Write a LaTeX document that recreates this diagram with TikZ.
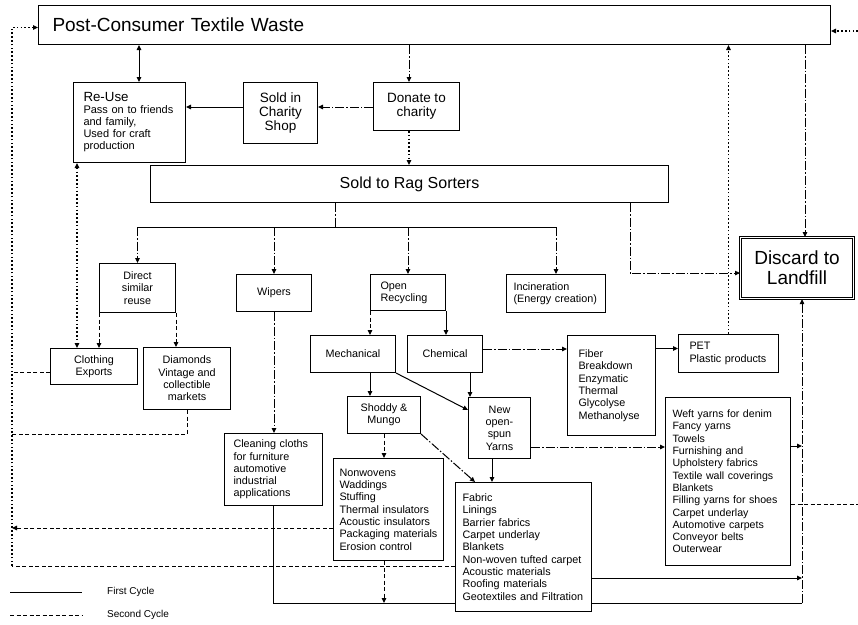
\documentclass[tikz,border=0pt]{standalone}
\usepackage{fontspec}
\setmainfont{Liberation Sans}
\usetikzlibrary{arrows.meta,backgrounds}

\begin{document}
\begin{tikzpicture}[x=1pt,y=-1pt,
  >={Triangle[length=5pt,width=4.5pt]},
  box/.style={draw, fill=white, line width=1pt, inner sep=0pt, anchor=north west,
              font=\fontsize{10.8}{12.3}\selectfont},
  sz/.style 2 args={minimum width=#1pt, minimum height=#2pt},
  lt/.style={align=left, text width=#1pt},
  ct/.style={align=center},
  first/.style={line width=1pt},
  second/.style={line width=1pt, dash pattern=on 4pt off 2.5pt},
  dotl/.style={line width=1.1pt, dash pattern=on 1.6pt off 2.2pt},
  dd/.style={line width=1pt, dash pattern=on 9pt off 2pt on 1.5pt off 2pt},
  legend/.style={anchor=west, inner sep=0pt, font=\fontsize{10}{12}\selectfont},
]
\useasboundingbox (0,0) rectangle (858,624);

% ---------- boxes ----------
\node[box, sz={792}{39}, lt=764, font=\fontsize{19}{22}\selectfont] (PCTW) at (38,5)
  {Post-Consumer Textile Waste};
\node[box, sz={112}{80}, lt=92, font=\fontsize{11}{12}\selectfont] (ReUse) at (73,82)
  {{\fontsize{13.3}{14}\selectfont Re-Use}\\Pass on to friends\\and family,\\Used for craft\\production};
\node[box, sz={74}{61}, ct, font=\fontsize{13.5}{14}\selectfont] (Shop) at (243,82)
  {Sold in\\Charity\\Shop};
\node[box, sz={86}{48}, ct, font=\fontsize{13.5}{14}\selectfont] (Donate) at (373,82)
  {Donate to\\charity};
\node[box, sz={518}{37}, font=\fontsize{16}{18}\selectfont] (Rag) at (150,165)
  {Sold to Rag Sorters};
\node[box, sz={113}{61}, ct, font=\fontsize{19}{20}\selectfont,
      double, double distance=1.2pt, line width=1.1pt] (Discard) at (740,237)
  {Discard to\\Landfill};

\node[box, sz={76}{49}, ct] (Direct) at (99,263) {Direct\\similar\\reuse};
\node[box, sz={75}{37}] (Wipers) at (236,274) {Wipers};
\node[box, sz={75}{36}, lt=55] (OpenRec) at (370,274) {Open\\Recycling};
\node[box, sz={99}{38}, lt=85] (Incin) at (506,274) {Incineration\\(Energy creation)};

\node[box, sz={87}{36}, ct] (Clothing) at (50,348) {Clothing\\Exports};
\node[box, sz={87}{62}, ct] (Diamonds) at (143,347) {Diamonds\\Vintage and\\collectible\\markets};
\node[box, sz={85}{37}] (Mech) at (310,335) {Mechanical};
\node[box, sz={75}{37}] (Chem) at (407,335) {Chemical};
\node[box, sz={88}{100}, lt=66] (Fiber) at (567,335)
  {Fiber\\Breakdown\\Enzymatic\\Thermal\\Glycolyse\\Methanolyse};
\node[box, sz={100}{38}, lt=78] (PET) at (678,334) {PET\\Plastic products};
\node[box, sz={73}{37}, ct] (Shoddy) at (347,396) {Shoddy \&\\Mungo};
\node[box, sz={62}{61}, ct] (NewYarn) at (468,397) {New\\open-\\spun\\Yarns};
\node[box, sz={125}{168}, lt=111, font=\fontsize{10.6}{12.3}\selectfont] (Weft) at (665,397)
  {Weft yarns for denim\\Fancy yarns\\Towels\\Furnishing and\\Upholstery fabrics\\Textile wall coverings\\Blankets\\Filling yarns for shoes\\Carpet underlay\\Automotive carpets\\Conveyor belts\\Outerwear};
\node[box, sz={98}{72}, lt=80] (Cleaning) at (224,433)
  {Cleaning cloths\\for furniture\\automotive\\industrial\\applications};
\node[box, sz={110}{102}, lt=98] (Nonwov) at (333,458)
  {Nonwovens\\Waddings\\Stuffing\\Thermal insulators\\Acoustic insulators\\Packaging materials\\Erosion control};
\node[box, sz={136}{129}, lt=122] (Fabric) at (455,482)
  {Fabric\\Linings\\Barrier fabrics\\Carpet underlay\\Blankets\\Non-woven tufted carpet\\Acoustic materials\\Roofing materials\\Geotextiles and Filtration};

% ---------- legend ----------
\coordinate (lgAa) at (10,592); \coordinate (lgAb) at (82,592);
\coordinate (lgBa) at (10,615); \coordinate (lgBb) at (82,615);
\node[legend] (lgA) at (107,592) {First Cycle};
\node[legend] (lgB) at (107,615) {Second Cycle};

% ---------- routing columns and rows ----------
\coordinate (xA) at (139,0);   % Re-Use link
\coordinate (xB) at (409,0);   % donation column
\coordinate (xC) at (335,0);   % sorter drop
\coordinate (xD) at (630,0);   % sorter to landfill
\coordinate (xE) at (805,0);   % waste to landfill
\coordinate (xF) at (802,0);   % collector to landfill
\coordinate (xG) at (12,0);    % second-cycle return
\coordinate (xH) at (77,0);    % Re-Use / exports link
\coordinate (xM) at (370,0);
\coordinate (xN) at (470,0);
\coordinate (xQ) at (475,0);
\coordinate (xR) at (492,0);
\coordinate (yShop) at (0,107);
\coordinate (yBus) at (0,227);
\coordinate (yL1) at (0,434);
\coordinate (yL2) at (0,528);
\coordinate (yL3) at (0,566);
\coordinate (yB) at (0,603);
\coordinate (yF) at (0,578);
\coordinate (yW0) at (0,447);
\coordinate (yW1) at (0,446);
\coordinate (yW2) at (0,504);
\coordinate (edgeR) at (858,504);
\coordinate (edgeT) at (858,31);

% ---------- connectors ----------
\begin{pgfonlayer}{background}
\fill[white] (0,0) rectangle (858,624);

\draw[first,<->] (PCTW.south -| xA) -- (ReUse.north -| xA);
\draw[dd,->] (PCTW.south -| xB) -- (Donate.north -| xB);
\draw[dd,->] (Donate.west |- yShop) -- (Shop.east |- yShop);
\draw[first,->] (Shop.west |- yShop) -- (ReUse.east |- yShop);
\draw[dotl,->] (Donate.south -| xB) -- (Rag.north -| xB);

\draw[dd] (Rag.south -| xC) -- (yBus -| xC);
\draw[first] (yBus -| Direct.north) -- (yBus -| Incin.north);
\draw[dd,->] (yBus -| Direct.north) -- (Direct.north);
\draw[dd,->] (yBus -| Wipers.north) -- (Wipers.north);
\draw[dd,->] (yBus -| OpenRec.north) -- (OpenRec.north);
\draw[dd,->] (yBus -| Incin.north) -- (Incin.north);
\draw[dd,->] (Rag.south -| xD) |- ([yshift=-5pt]Discard.west);

\draw[second,->] (Direct.south west) -- (Direct.south west |- Clothing.north);
\draw[second,->] (Direct.south east) -- (Direct.south east |- Diamonds.north);
\draw[dotl,<->] (ReUse.south -| xH) -- (Clothing.north -| xH);

\draw[second] ([yshift=-6pt]Clothing.west) -- ([yshift=-6pt]Clothing.west -| xG);
\draw[second] (Diamonds.south) |- (yL1 -| xG);
\draw[second,->] (Nonwov.west |- yL2) -- (yL2 -| xG);
\draw[second] (Fabric.west |- yL3) -- (yL3 -| xG);
\draw[dotl,->] (yL3 -| xG) |- ([yshift=-2.5pt]PCTW.west);

\draw[dd,->] (Wipers.south) -- (Wipers.south |- Cleaning.north);
\draw[first] (Cleaning.south) |- (yB -| xF);

\draw[second,->] (OpenRec.south west) -- (OpenRec.south west |- Mech.north);
\draw[first,->] (OpenRec.south east) -- (OpenRec.south east |- Chem.north);
\draw[dd,->] ([yshift=5pt]Chem.east) -- ([yshift=5pt]Chem.east -| Fiber.west);
\draw[first,->] ([yshift=5pt]PET.west -| Fiber.east) -- ([yshift=5pt]PET.west);
\draw[dotl,->] (PET.north) -- (PET.north |- PCTW.south);
\draw[dd,->] (PCTW.south -| xE) -- (Discard.north -| xE);
\draw[dd,->] (yB -| xF) -- (Discard.south -| xF);

\draw[first,->] (Mech.south east) -- ([yshift=18pt]NewYarn.west);
\draw[first,->] (Mech.south -| xM) -- (Shoddy.north -| xM);
\draw[first,->] (Chem.south -| xN) -- (NewYarn.north -| xN);
\draw[dd,->] (Shoddy.south east) -- (Fabric.north -| xQ);
\draw[second,->] (Shoddy.south) -- (Shoddy.south |- Nonwov.north);
\draw[first,->] (NewYarn.south -| xR) -- (Fabric.north -| xR);
\draw[dd,->] (NewYarn.east |- yW0) -- (Weft.west |- yW0);
\draw[second,->] (Nonwov.south -| Shoddy.south) -- (yB -| Shoddy.south);
\draw[first,->] (Fabric.east |- yF) -- (yF -| xF);
\draw[first,->] (Weft.east |- yW1) -- (yW1 -| xF);
\draw[second] (Weft.east |- yW2) -- (edgeR);
\draw[dotl,->] (edgeT) -- (PCTW.east |- edgeT);

\draw[first] (lgAa) -- (lgAb);
\draw[second] (lgBa) -- (lgBb);
\end{pgfonlayer}
\end{tikzpicture}
\end{document}
